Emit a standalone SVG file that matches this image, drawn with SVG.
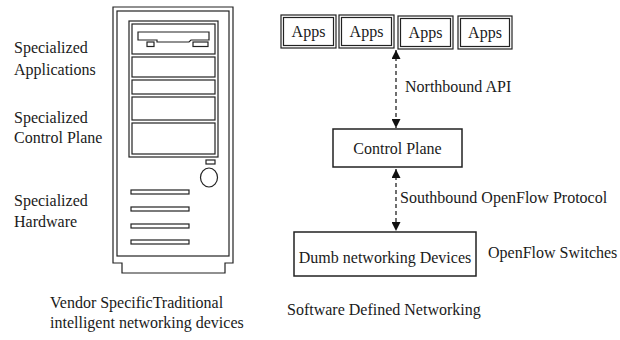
<svg xmlns="http://www.w3.org/2000/svg" width="620" height="340" viewBox="0 0 620 340">
  <style>
    .t { font-family: "Liberation Serif", "Times New Roman", serif; font-size: 16px; fill: #1a1a1a; }
    .ln { fill: none; stroke: #222; stroke-width: 1.2; }
    .box { fill: #fff; stroke: #222; stroke-width: 1.5; }
    .dash { fill: none; stroke: #222; stroke-width: 1.3; stroke-dasharray: 4 3; }
  </style>
  <defs>
    <marker id="ah" viewBox="0 0 10 10" refX="10" refY="5" markerWidth="10" markerHeight="9" markerUnits="userSpaceOnUse" orient="auto-start-reverse">
      <path d="M0,0 L10,5 L0,10 Z" fill="#111"/>
    </marker>
  </defs>
  <rect width="620" height="340" fill="#fff"/>

  <!-- Traditional device: tower case -->
  <g id="tower">
    <path class="ln" d="M113,263 V7 H233 V263 H225 V273 H122 V263 Z"/>
    <rect class="ln" x="117" y="11" width="112" height="245"/>
    <!-- drive bays -->
    <rect class="ln" x="129" y="21" width="89" height="136"/>
    <rect class="ln" x="132" y="24" width="83" height="30"/>
    <rect class="ln" x="132" y="57" width="83" height="20"/>
    <rect class="ln" x="132" y="80" width="83" height="14"/>
    <rect class="ln" x="132" y="97" width="83" height="23"/>
    <rect class="ln" x="132" y="123" width="83" height="31"/>
    <!-- floppy slot -->
    <path class="ln" d="M138,32 H209 V40 H191 L189,42 H157 V40 H138 Z"/>
    <rect class="ln" x="147" y="42" width="7" height="4.5"/>
    <rect class="ln" x="193" y="42" width="15" height="4.5"/>
    <!-- power button -->
    <rect class="ln" x="206" y="160" width="9" height="4"/>
    <ellipse class="ln" cx="209" cy="177.5" rx="8.5" ry="9.5"/>
    <!-- vents -->
    <rect class="ln" x="131" y="190" width="58" height="4"/>
    <rect class="ln" x="131" y="207" width="58" height="4"/>
    <rect class="ln" x="131" y="224" width="58" height="4"/>
    <rect class="ln" x="131" y="240" width="58" height="4"/>
  </g>

  <g id="tower-labels">
    <text class="t" x="14" y="53">Specialized</text>
    <text class="t" x="14" y="75">Applications</text>
    <text class="t" x="14" y="123">Specialized</text>
    <text class="t" x="14" y="143">Control Plane</text>
    <text class="t" x="14" y="206">Specialized</text>
    <text class="t" x="14" y="227">Hardware</text>
    <text class="t" x="50" y="308">Vendor SpecificTraditional</text>
    <text class="t" x="50" y="328">intelligent networking devices</text>
  </g>

  <!-- SDN stack -->
  <g id="apps1">
    <rect class="ln" x="281" y="15" width="55" height="33"/>
    <rect class="ln" x="283.5" y="17.5" width="50" height="28"/>
    <text class="t" x="308.5" y="37" text-anchor="middle">Apps</text>
  </g>
  <g id="apps2">
    <rect class="ln" x="339" y="15" width="55" height="33"/>
    <rect class="ln" x="341.5" y="17.5" width="50" height="28"/>
    <text class="t" x="366.5" y="37" text-anchor="middle">Apps</text>
  </g>
  <g id="apps3">
    <rect class="ln" x="398" y="16" width="55" height="33"/>
    <rect class="ln" x="400.5" y="18.5" width="50" height="28"/>
    <text class="t" x="425.5" y="38" text-anchor="middle">Apps</text>
  </g>
  <g id="apps4">
    <rect class="ln" x="458" y="16" width="54" height="33"/>
    <rect class="ln" x="460.5" y="18.5" width="49" height="28"/>
    <text class="t" x="485" y="38" text-anchor="middle">Apps</text>
  </g>

  <g id="control-plane">
    <rect class="box" x="333" y="129" width="129" height="38"/>
    <text class="t" x="397.5" y="154" text-anchor="middle">Control Plane</text>
  </g>

  <g id="devices">
    <rect class="box" x="294" y="232" width="182" height="44"/>
    <text class="t" x="385" y="263" text-anchor="middle">Dumb networking Devices</text>
    <text class="t" x="488" y="258">OpenFlow Switches</text>
  </g>

  <g id="connectors">
    <line class="dash" x1="396" y1="50" x2="396" y2="128" marker-start="url(#ah)" marker-end="url(#ah)"/>
    <line class="dash" x1="396" y1="169" x2="396" y2="231" marker-start="url(#ah)" marker-end="url(#ah)"/>
    <text class="t" x="405" y="92">Northbound API</text>
    <text class="t" x="400" y="203">Southbound OpenFlow Protocol</text>
  </g>

  <text class="t" x="287" y="315">Software Defined Networking</text>
</svg>
